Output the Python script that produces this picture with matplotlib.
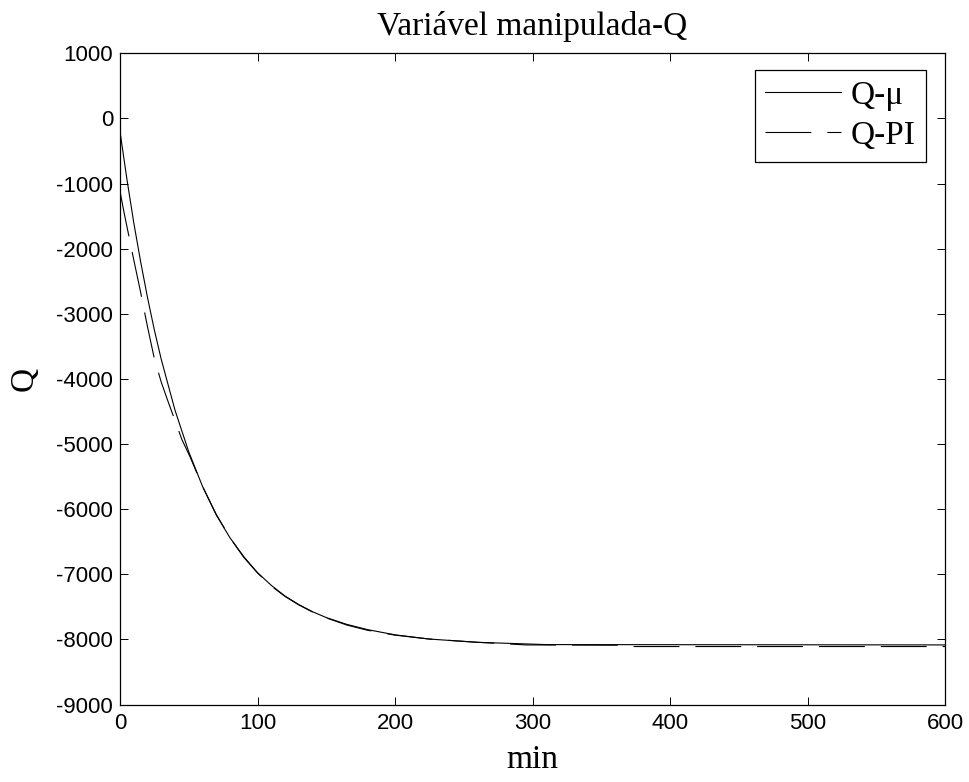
import numpy as np
import matplotlib
matplotlib.use("Agg")
import matplotlib.pyplot as plt

# values
t_mu = [0, 5, 10, 15, 20, 25, 30, 40, 50, 60, 70, 80, 90, 100, 110, 120,
        130, 140, 150, 165, 180, 200, 225, 260, 310, 600]
q_mu = [-200, -930, -1600, -2200, -2750, -3250, -3700, -4480, -5120, -5650,
        -6090, -6440, -6730, -6975, -7170, -7335, -7465, -7575, -7665, -7770,
        -7850, -7930, -7995, -8045, -8080, -8085]

t_pi = [0, 3, 6, 10, 15, 20, 25, 30, 35, 40, 45, 51, 60, 70, 80, 90, 100,
        110, 120, 130, 140, 150, 165, 180, 200, 225, 260, 295, 366, 370, 600]
q_pi = [-1120, -1450, -1760, -2170, -2670, -3200, -3690, -4050, -4350, -4640,
        -4930, -5200, -5650, -6080, -6440, -6740, -6980, -7180, -7340, -7470,
        -7580, -7670, -7780, -7860, -7935, -7995, -8045, -8085, -8090, -8110,
        -8110]

x_ticks = [0, 100, 200, 300, 400, 500, 600]
y_ticks = list(range(-9000, 1001, 1000))

plt.rcParams['lines.scale_dashes'] = False
fig = plt.figure(figsize=(9.7, 7.82), dpi=100)
ax = fig.add_axes([120 / 970, 1 - 704.5 / 782, 825 / 970, 651.2 / 782])

ax.plot(t_mu, q_mu, color='black', linewidth=0.8, label='Q-\u03bc')
ax.plot(t_pi, q_pi, color='black', linewidth=0.8, linestyle=(0, (33, 11.5)),
        label='Q-PI')

ax.set_xlim(0, 600)
ax.set_ylim(-9000, 1000)
ax.set_xticks(x_ticks)
ax.set_yticks(y_ticks)

tick_font = {'family': 'Liberation Sans', 'size': 16}
ax.set_xticklabels([str(v) for v in x_ticks], fontdict=tick_font)
ax.set_yticklabels([str(v) for v in y_ticks], fontdict=tick_font)
ax.tick_params(direction='in', length=6, width=0.7, top=True, right=True)
ax.tick_params(axis='x', pad=6)
ax.tick_params(axis='y', pad=5)
for s in ax.spines.values():
    s.set_linewidth(0.9)

serif = 'Liberation Serif'
ax.set_title('Vari\u00e1vel manipulada-Q', family=serif, fontsize=24, pad=13)
ax.set_xlabel('min', family=serif, fontsize=24, labelpad=8)
ax.set_ylabel('Q', family=serif, fontsize=24, labelpad=12)

leg = ax.legend(loc='upper right', bbox_to_anchor=(0.977, 0.9744),
                borderaxespad=0, fancybox=False, framealpha=1,
                edgecolor='black', prop={'family': serif, 'size': 24},
                handlelength=2.28, handletextpad=0.27, labelspacing=0.28,
                borderpad=0.32)
leg.get_frame().set_linewidth(0.9)

plt.savefig('out.png', dpi=100)
